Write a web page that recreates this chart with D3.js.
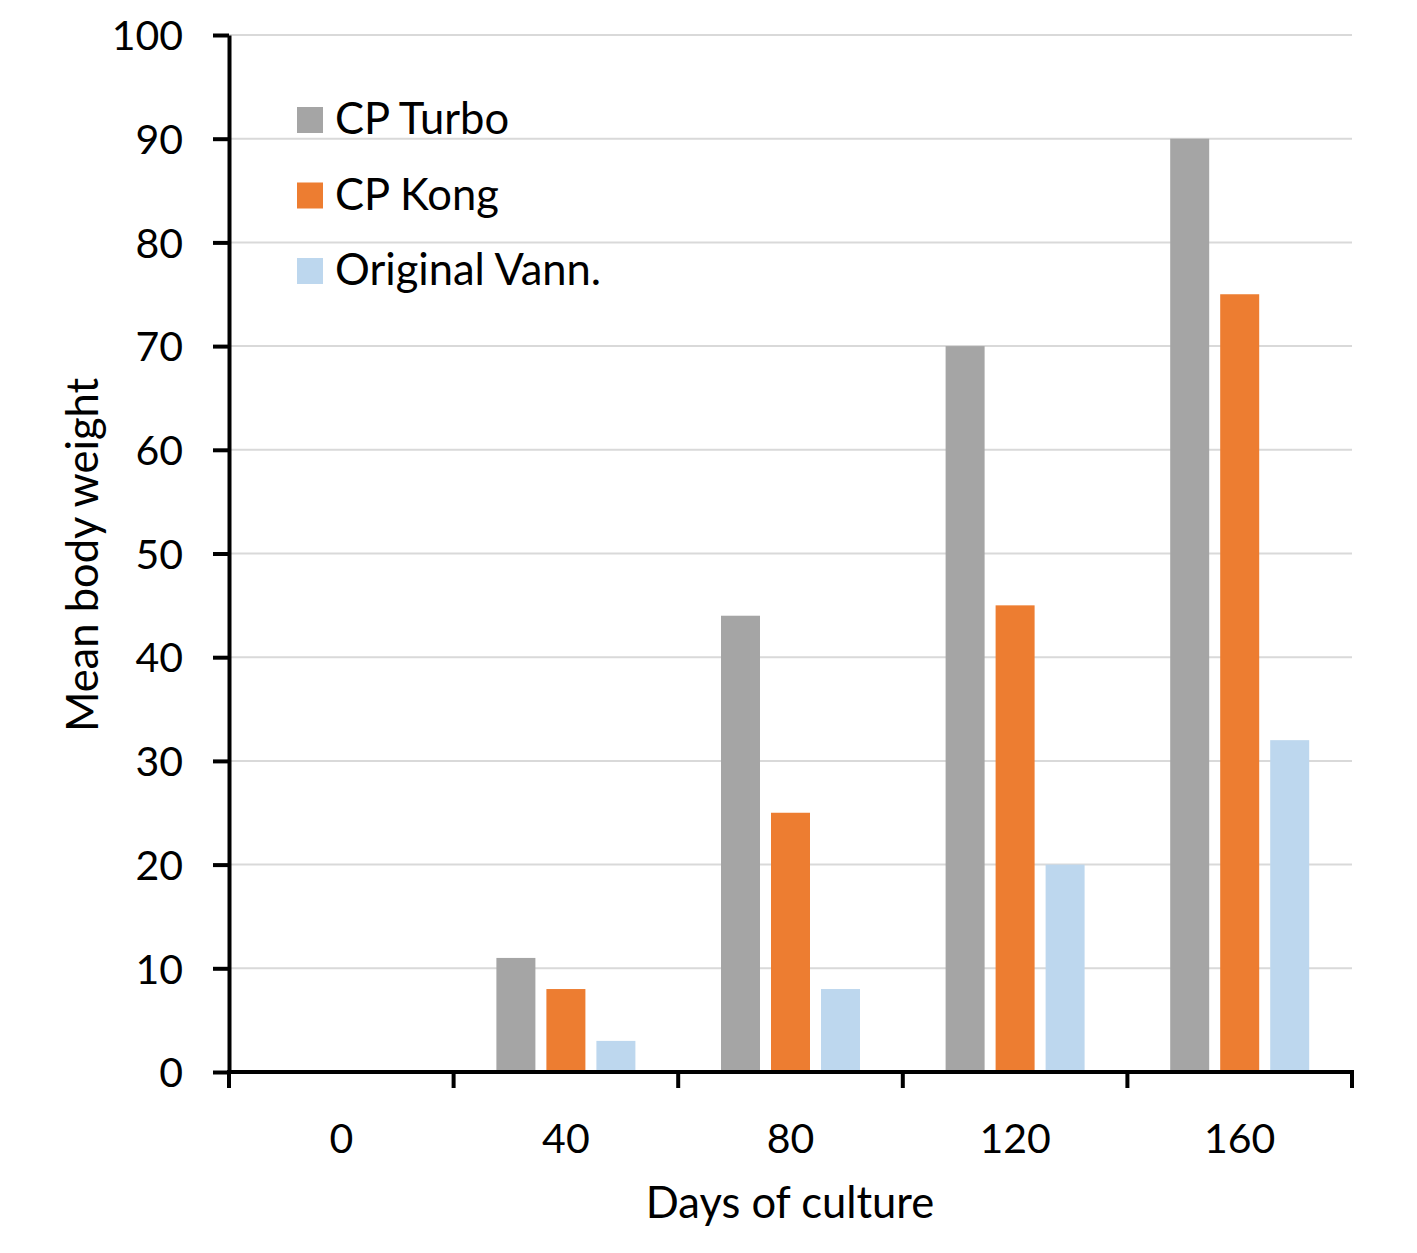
<!DOCTYPE html>
<html>
<head>
<meta charset="utf-8">
<script src="https://cdn.jsdelivr.net/npm/d3@7"></script>
<style>
html,body{margin:0;padding:0;background:#fff;}
svg text{font-family:Lato,"Open Sans",sans-serif;fill:#000;}
</style>
</head>
<body>
<svg id="chart" width="1417" height="1253"></svg>
<script>
const categories = ["0", "40", "80", "120", "160"];
const seriesNames = ["CP Turbo", "CP Kong", "Original Vann."];
const cpTurbo = [0, 11, 44, 70, 90];
const cpKong = [0, 8, 25, 45, 75];
const originalVann = [0, 3, 8, 20, 32];
const yTicks = [0, 10, 20, 30, 40, 50, 60, 70, 80, 90, 100];
const colors = ["#a5a5a5", "#ed7d31", "#bdd7ee"];

const seriesValues = [cpTurbo, cpKong, originalVann];
const svg = d3.select("#chart");
const mLeft = 229, mRight = 1352, mTop = 35, mBottom = 1072;
const fs = 41, fsTitle = 43.5;

const x = d3.scaleBand().domain(categories).range([mLeft, mRight]).padding(0);
const x1 = d3.scaleBand().domain(seriesNames).range([-69.5, 69.5]).paddingInner(0.22).paddingOuter(0);
const y = d3.scaleLinear().domain([0, 100]).range([mBottom, mTop]);

// gridlines
svg.append("g").selectAll("line").data(yTicks.filter(d => d > 0)).join("line")
  .attr("x1", mLeft).attr("x2", mRight)
  .attr("y1", d => y(d)).attr("y2", d => y(d))
  .attr("stroke", "#d9d9d9").attr("stroke-width", 2);

// bars
const groups = svg.append("g").selectAll("g").data(categories).join("g")
  .attr("transform", d => `translate(${x(d) + x.bandwidth() / 2},0)`);
groups.selectAll("rect").data((c, i) => seriesNames.map((s, j) => ({s, j, v: seriesValues[j][i]})))
  .join("rect")
  .attr("x", d => x1(d.s)).attr("width", x1.bandwidth())
  .attr("y", d => y(d.v)).attr("height", d => y(0) - y(d.v))
  .attr("fill", d => colors[d.j]);

// y axis
const yAxis = svg.append("g").attr("transform", `translate(${mLeft},0)`)
  .call(d3.axisLeft(y).tickValues(yTicks).tickSize(16).tickPadding(30).tickSizeOuter(0));
yAxis.select(".domain").attr("stroke", "#000").attr("stroke-width", 4);
yAxis.selectAll(".tick line").attr("stroke", "#000").attr("stroke-width", 4);
yAxis.selectAll(".tick text").attr("font-size", fs).attr("font-family", "Lato").attr("dy", "0.36em");

// x axis labels
const xAxis = svg.append("g").attr("transform", `translate(0,${mBottom})`)
  .call(d3.axisBottom(x).tickSize(0).tickPadding(52).tickSizeOuter(0));
xAxis.select(".domain").remove();
xAxis.selectAll(".tick text").attr("font-size", fs).attr("font-family", "Lato");
// x axis line and boundary ticks
svg.append("line").attr("x1", mLeft - 2).attr("x2", mRight + 2).attr("y1", mBottom).attr("y2", mBottom)
  .attr("stroke", "#000").attr("stroke-width", 4);
const bounds = categories.map(c => x(c)).concat([x.range()[1]]);
svg.append("g").selectAll("line").data(bounds).join("line")
  .attr("x1", d => d).attr("x2", d => d).attr("y1", mBottom).attr("y2", mBottom + 16)
  .attr("stroke", "#000").attr("stroke-width", 4);

// axis titles
svg.append("text").attr("x", 790).attr("y", 1218)
  .attr("text-anchor", "middle").attr("font-size", fsTitle).text("Days of culture");
svg.append("text").attr("transform", `translate(98,555) rotate(-90)`)
  .attr("text-anchor", "middle").attr("font-size", fsTitle).text("Mean body weight");

// legend
const legend = svg.append("g").selectAll("g").data(seriesNames).join("g")
  .attr("transform", (d, i) => `translate(297,${107 + i * 75.5})`);
legend.append("rect").attr("width", 26).attr("height", 26).attr("fill", (d, i) => colors[i]);
legend.append("text").attr("x", 38).attr("y", 27).attr("font-size", fsTitle).text(d => d);
</script>
</body>
</html>
